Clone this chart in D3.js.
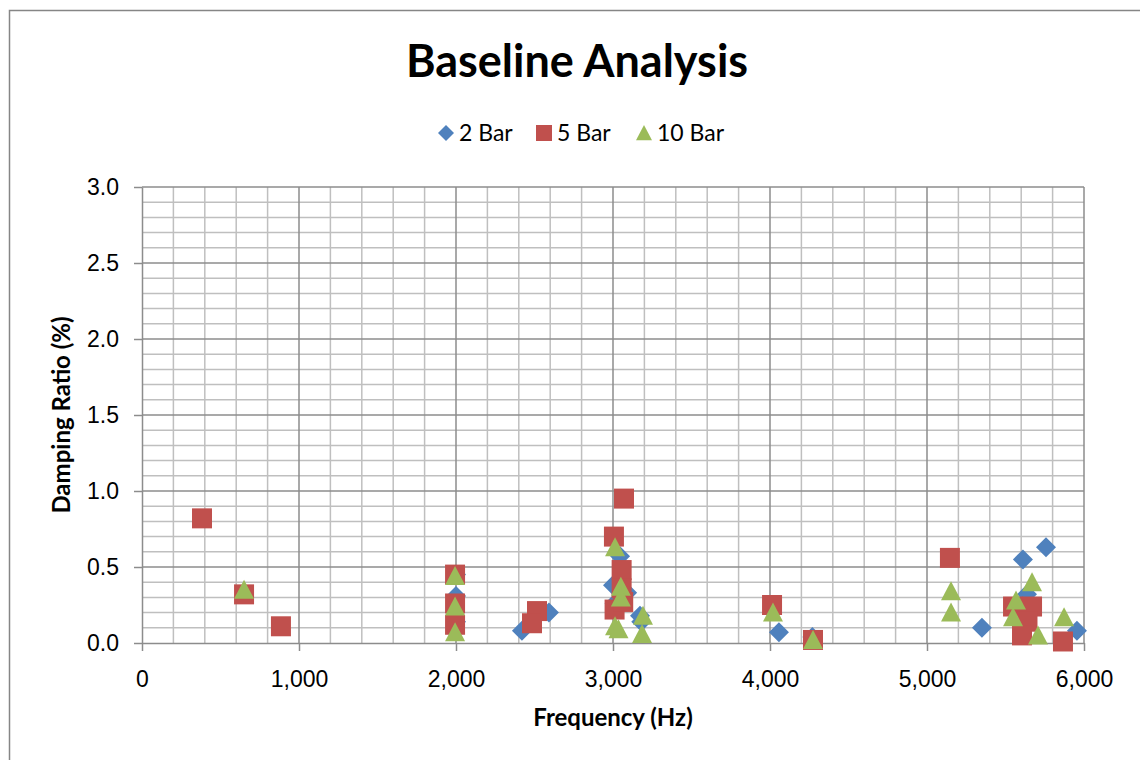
<!DOCTYPE html>
<html>
<head>
<meta charset="utf-8">
<script src="https://cdn.jsdelivr.net/npm/d3@7"></script>
<style>
  body { margin: 0; background: #fff; }
  svg { font-family: Lato, "Open Sans", sans-serif; }
</style>
</head>
<body>
<div id="chart"></div>
<script>
// Series data: [frequency Hz, damping %]
const bar2 = [
  [2000, 0.45], [2000, 0.31], [2000, 0.14],
  [2420, 0.08], [2592, 0.20],
  [3045, 0.57], [3000, 0.38], [3090, 0.33], [3010, 0.26], [3172, 0.18], [3180, 0.14],
  [4057, 0.07], [4270, 0.04],
  [5350, 0.10], [5611, 0.55], [5758, 0.63], [5637, 0.32], [5955, 0.08]
];
const bar5 = [
  [382, 0.82], [650, 0.32], [885, 0.11],
  [1994, 0.45], [1994, 0.26], [1994, 0.12],
  [2516, 0.21], [2484, 0.13],
  [3006, 0.70], [3070, 0.95], [3055, 0.48], [3055, 0.36], [3010, 0.22], [3065, 0.27],
  [4013, 0.25], [4274, 0.02],
  [5146, 0.56], [5548, 0.24], [5669, 0.24], [5640, 0.14], [5605, 0.05], [5866, 0.01]
];
const bar10 = [
  [650, 0.35],
  [1994, 0.44], [1994, 0.24], [1994, 0.07],
  [3013, 0.63], [3050, 0.37], [3050, 0.30], [3013, 0.11], [3035, 0.09], [3191, 0.18], [3185, 0.06],
  [4019, 0.20], [4274, 0.02],
  [5153, 0.34], [5153, 0.20],
  [5567, 0.28], [5548, 0.17], [5669, 0.40], [5707, 0.05], [5873, 0.17]
];
const seriesNames = ["2 Bar", "5 Bar", "10 Bar"];
const xTicks = [0, 1000, 2000, 3000, 4000, 5000, 6000];
const yTicks = [0, 0.5, 1.0, 1.5, 2.0, 2.5, 3.0];

const W = 1140, H = 760;
const margin = {top: 187, right: 56, bottom: 117, left: 142};
const width = W - margin.left - margin.right;
const height = H - margin.top - margin.bottom;

const colors = ["#4F81BD", "#C0504D", "#9BBB59"];

// marker shapes, r = half width
function marker(i, r) {
  if (i === 0) return `M0,${-r}L${r},0L0,${r}L${-r},0Z`;
  if (i === 1) return `M${-r},${-r}H${r}V${r}H${-r}Z`;
  return `M0,${-r}L${r},${r * 0.9}L${-r},${r * 0.9}Z`;
}

const svg = d3.select("#chart").append("svg")
  .attr("width", W)
  .attr("height", H);

// outer chart frame
svg.append("rect")
  .attr("x", 9.5).attr("y", 10.5)
  .attr("width", W + 20).attr("height", H + 20)
  .attr("fill", "none")
  .attr("stroke", "#868686")
  .attr("stroke-width", 1.5);

const g = svg.append("g")
  .attr("transform", `translate(${margin.left},${margin.top})`);

const x = d3.scaleLinear().domain([0, 6000]).range([0, width]);
const y = d3.scaleLinear().domain([0, 3]).range([height, 0]);

// minor grid
g.append("g").selectAll("line")
  .data(d3.range(0, 6001, 200).filter(v => v % 1000 !== 0))
  .join("line")
  .attr("x1", d => x(d)).attr("x2", d => x(d))
  .attr("y1", 0).attr("y2", height)
  .attr("stroke", "#bfbfbf").attr("stroke-width", 1.5);
g.append("g").selectAll("line")
  .data(d3.range(1, 30).filter(v => v % 5 !== 0).map(v => v / 10))
  .join("line")
  .attr("x1", 0).attr("x2", width)
  .attr("y1", d => y(d)).attr("y2", d => y(d))
  .attr("stroke", "#bfbfbf").attr("stroke-width", 1.5);

// major grid
g.append("g").selectAll("line")
  .data(xTicks.slice(1))
  .join("line")
  .attr("x1", d => x(d)).attr("x2", d => x(d))
  .attr("y1", 0).attr("y2", height)
  .attr("stroke", "#8c8c8c").attr("stroke-width", 1.5);
g.append("g").selectAll("line")
  .data(yTicks.slice(1))
  .join("line")
  .attr("x1", 0).attr("x2", width)
  .attr("y1", d => y(d)).attr("y2", d => y(d))
  .attr("stroke", "#8c8c8c").attr("stroke-width", 1.5);

// axes
const xAxis = g.append("g")
  .attr("transform", `translate(0,${height})`)
  .call(d3.axisBottom(x).tickValues(xTicks).tickSize(8).tickSizeOuter(0)
    .tickFormat(d3.format(",")));
const yAxis = g.append("g")
  .call(d3.axisLeft(y).tickValues(yTicks).tickSize(8).tickSizeOuter(0)
    .tickFormat(d3.format(".1f")));

[xAxis, yAxis].forEach(a => {
  a.select(".domain").attr("stroke", "#8c8c8c").attr("stroke-width", 1.5);
  a.selectAll(".tick line").attr("stroke", "#8c8c8c").attr("stroke-width", 1.5);
  a.selectAll("text").attr("fill", "#000").style("font-size", "23px");
});
xAxis.selectAll("text").attr("y", 44).attr("dy", null);
yAxis.selectAll("text").attr("x", -23);

// points
[bar2, bar5, bar10].forEach((data, i) => {
  const r = i === 0 ? 10 : 10;
  g.append("g").selectAll("path")
    .data(data)
    .join("path")
    .attr("transform", d => `translate(${x(d[0])},${y(d[1])})`)
    .attr("d", marker(i, r))
    .attr("fill", colors[i]);
});

// title
svg.append("text")
  .attr("x", 577).attr("y", 77)
  .attr("text-anchor", "middle")
  .style("font-size", "45px")
  .style("font-weight", "bold")
  .text("Baseline Analysis");

// legend
const legend = svg.append("g");
const legendX = [446, 544, 644];
seriesNames.forEach((name, i) => {
  const lg = legend.append("g").attr("transform", `translate(${legendX[i]},133)`);
  lg.append("path")
    .attr("d", marker(i, 8))
    .attr("fill", colors[i]);
  lg.append("text")
    .attr("x", 13).attr("y", 8)
    .style("font-size", "23px")
    .text(name);
});

// axis titles
svg.append("text")
  .attr("x", margin.left + width / 2).attr("y", 726)
  .attr("text-anchor", "middle")
  .style("font-size", "24px").style("font-weight", "bold")
  .text("Frequency (Hz)");
svg.append("text")
  .attr("transform", `translate(70,${margin.top + height / 2}) rotate(-90)`)
  .attr("text-anchor", "middle")
  .style("font-size", "24px").style("font-weight", "bold")
  .text("Damping Ratio (%)");
</script>
</body>
</html>
